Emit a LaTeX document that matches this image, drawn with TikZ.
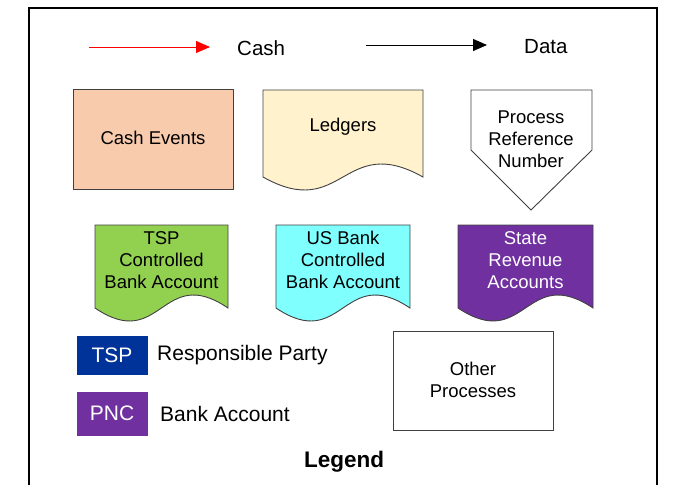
\documentclass[tikz,border=0pt]{standalone}
\usepackage{fontspec}
\setmainfont{Liberation Sans}
\usetikzlibrary{arrows.meta,calc}

\definecolor{peach}{HTML}{F8CBAD}
\definecolor{ledgercol}{HTML}{FFF2CC}
\definecolor{tspgreen}{HTML}{92D050}
\definecolor{usbankcyan}{HTML}{80FFFF}
\definecolor{statepurple}{HTML}{7030A0}
\definecolor{tspblue}{HTML}{003399}
\definecolor{edgegray}{HTML}{404040}

\tikzset{
  boxline/.style={draw=edgegray, line width=0.9pt},
  boxtext/.style={align=center, inner sep=0pt, font=\fontsize{18.5}{22}\selectfont},
  legtext/.style={inner sep=0pt, font=\fontsize{20.5}{24}\selectfont},
  keytext/.style={inner sep=0pt, font=\fontsize{21}{24}\selectfont},
  frameline/.style={draw=black, line width=2pt},
  flowarrow/.style={line width=1pt, -{Triangle[length=14pt,width=12pt]}},
}

% document symbol: left, top, right, bottom-of-sides
\newcommand{\docsymbol}[5]{%
  \filldraw[fill=#1, boxline] (#2,#3) -- (#4,#3) -- (#4,#5)
    .. controls ({(#2+#4)/2},{#5-45}) and ({(#2+#4)/2},{#5+45}) .. (#2,#5) -- cycle;}

\begin{document}
\begin{tikzpicture}[x=1pt,y=-1pt]
  \useasboundingbox (0,0) rectangle (674,485);

  % outer frame, open at the bottom
  \draw[frameline] (29,485) -- (29,8) -- (657,8) -- (657,485);

  % flow keys
  \coordinate (cashA) at (89,47);
  \coordinate (cashB) at (210,47);
  \draw[flowarrow, red] (cashA) -- (cashB);
  \node[legtext, anchor=west] (cashlbl) at (237,48) {Cash};

  \coordinate (dataA) at (366,45);
  \coordinate (dataB) at (487,45);
  \draw[flowarrow, black] (dataA) -- (dataB);
  \node[legtext, anchor=west] (datalbl) at (524,47) {Data};

  % cash events
  \filldraw[fill=peach, boxline] (73,89) rectangle (233,189);
  \node[boxtext] (cashevents) at (153,138) {Cash Events};

  % ledgers
  \docsymbol{ledgercol}{263}{90}{423}{177}
  \node[boxtext] (ledgers) at (343,127) {Ledgers};

  % process reference number (off-page connector)
  \filldraw[fill=white, boxline] (471,90) -- (592,90) -- (592,150) -- (531,210) -- (471,150) -- cycle;
  \node[boxtext] (prn) at (531,139) {Process\\Reference\\Number};

  % bank accounts
  \docsymbol{tspgreen}{95}{225}{228}{308}
  \node[boxtext] (tspacct) at (161.5,260) {TSP\\Controlled\\Bank Account};

  \docsymbol{usbankcyan}{276}{225}{410}{308}
  \node[boxtext] (usacct) at (343,260) {US Bank\\Controlled\\Bank Account};

  \docsymbol{statepurple}{458}{225}{593}{308}
  \node[boxtext, text=white] (stateacct) at (525.5,260) {State\\Revenue\\Accounts};

  % colour keys
  \filldraw[fill=tspblue, draw=tspblue] (77,336) rectangle (147,374);
  \node[keytext, text=white] (tspkey) at (112,355) {TSP};
  \node[keytext, anchor=west] (tsplbl) at (157,355) {Responsible Party};

  \filldraw[fill=statepurple, draw=statepurple] (77,392) rectangle (147,435);
  \node[keytext, text=white] (pnckey) at (112,413) {PNC};
  \node[keytext, anchor=west] (pnclbl) at (160,414) {Bank Account};

  % other processes
  \filldraw[fill=white, boxline] (393,331) rectangle (553,430);
  \node[boxtext] (other) at (473,380) {Other\\Processes};

  % title
  \node[inner sep=0pt, font=\fontsize{22.5}{26}\selectfont\bfseries] (legendtitle) at (344,462) {Legend};
\end{tikzpicture}
\end{document}
